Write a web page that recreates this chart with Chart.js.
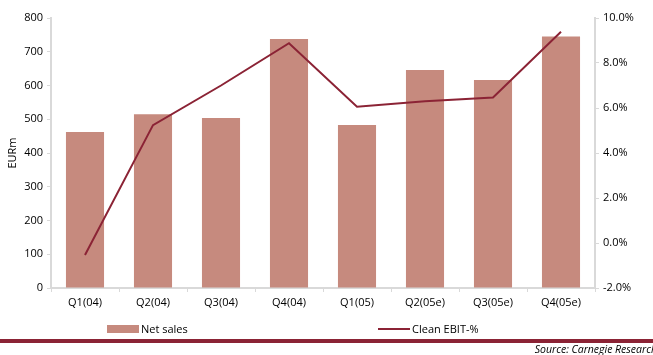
<!DOCTYPE html>
<html><head><meta charset="utf-8">
<script src="https://cdn.jsdelivr.net/npm/chart.js@4"></script>
<style>
html,body{margin:0;padding:0;background:#fff;}
#wrap{position:relative;width:653px;height:355px;overflow:hidden;font-family:"Open Sans",sans-serif;color:#000;}
#c{position:absolute;left:0;top:0;}
.leg{position:absolute;font-size:11px;line-height:14px;top:322px;}
.box{position:absolute;left:107px;top:325px;width:32px;height:8px;background:#C68A7E;}
.ln{position:absolute;left:378px;top:328px;width:32px;height:2px;background:#8B2335;}
#rule{position:absolute;left:0;top:339px;width:653px;height:4px;background:#8B2335;}
#src{position:absolute;right:-4px;top:343px;font-size:10.5px;font-style:italic;line-height:13px;white-space:nowrap;}
</style></head>
<body>
<div id="wrap">
<canvas id="c" width="653" height="355"></canvas>
<div class="box"></div><div class="leg" style="left:141px">Net sales</div>
<div class="ln"></div><div class="leg" style="left:412px">Clean EBIT-%</div>
<div id="rule"></div>
<div id="src">Source: Carnegie Research</div>
</div>
<script>
const categories = ["Q1(04)","Q2(04)","Q3(04)","Q4(04)","Q1(05)","Q2(05e)","Q3(05e)","Q4(05e)"];
const netSales = [462, 515, 504, 738, 483, 646, 616, 745];
const cleanEbitPct = [-0.53, 5.24, 7.0, 8.88, 6.06, 6.3, 6.47, 9.39];
const leftTicks = [0,100,200,300,400,500,600,700,800];
const rightTicks = [-2,0,2,4,6,8,10];

const FONT = {family:'"Open Sans", sans-serif', size:11};
new Chart(document.getElementById('c'), {
  data:{
    labels: categories,
    datasets:[
      {type:'line', label:'Clean EBIT-%', data: cleanEbitPct, yAxisID:'y1', borderColor:'#8B2335', borderWidth:2, pointRadius:0, tension:0, order:0, fill:false},
      {type:'bar', label:'Net sales', data: netSales, yAxisID:'y', backgroundColor:'#C68A7E', categoryPercentage:1, barPercentage:0.56, order:1}
    ]
  },
  options:{
    responsive:false, animation:false,
    layout:{padding:{left:0,right:0,top:18,bottom:0}},
    plugins:{legend:{display:false}, tooltip:{enabled:false}},
    scales:{
      x:{
        grid:{offset:true, drawOnChartArea:false, drawTicks:true, tickLength:4, color:'#d9d9d9', lineWidth:1},
        border:{color:'#d9d9d9', width:2},
        ticks:{color:'#000', font:FONT, padding:4},
        afterFit(s){ s.height = 67; }
      },
      y:{
        position:'left', min:0, max:800,
        afterBuildTicks(s){ s.ticks = leftTicks.map(v=>({value:v})); },
        grid:{drawOnChartArea:false, drawTicks:true, tickLength:4, color:'#d9d9d9'},
        border:{color:'#d9d9d9', width:2},
        ticks:{color:'#000', font:FONT, padding:4},
        title:{display:true, text:'EURm', color:'#000', font:FONT, padding:{top:6,bottom:0}},
        afterFit(s){ s.width = 51; }
      },
      y1:{
        position:'right', min:-2, max:10,
        afterBuildTicks(s){ s.ticks = rightTicks.map(v=>({value:v})); },
        grid:{drawOnChartArea:false, drawTicks:true, tickLength:4, color:'#d9d9d9'},
        border:{color:'#d9d9d9', width:2},
        ticks:{color:'#000', font:FONT, padding:4, callback:(v)=>Number(v).toFixed(1)+'%'},
        afterFit(s){ s.width = 58; }
      }
    }
  }
});
</script>
</body></html>
